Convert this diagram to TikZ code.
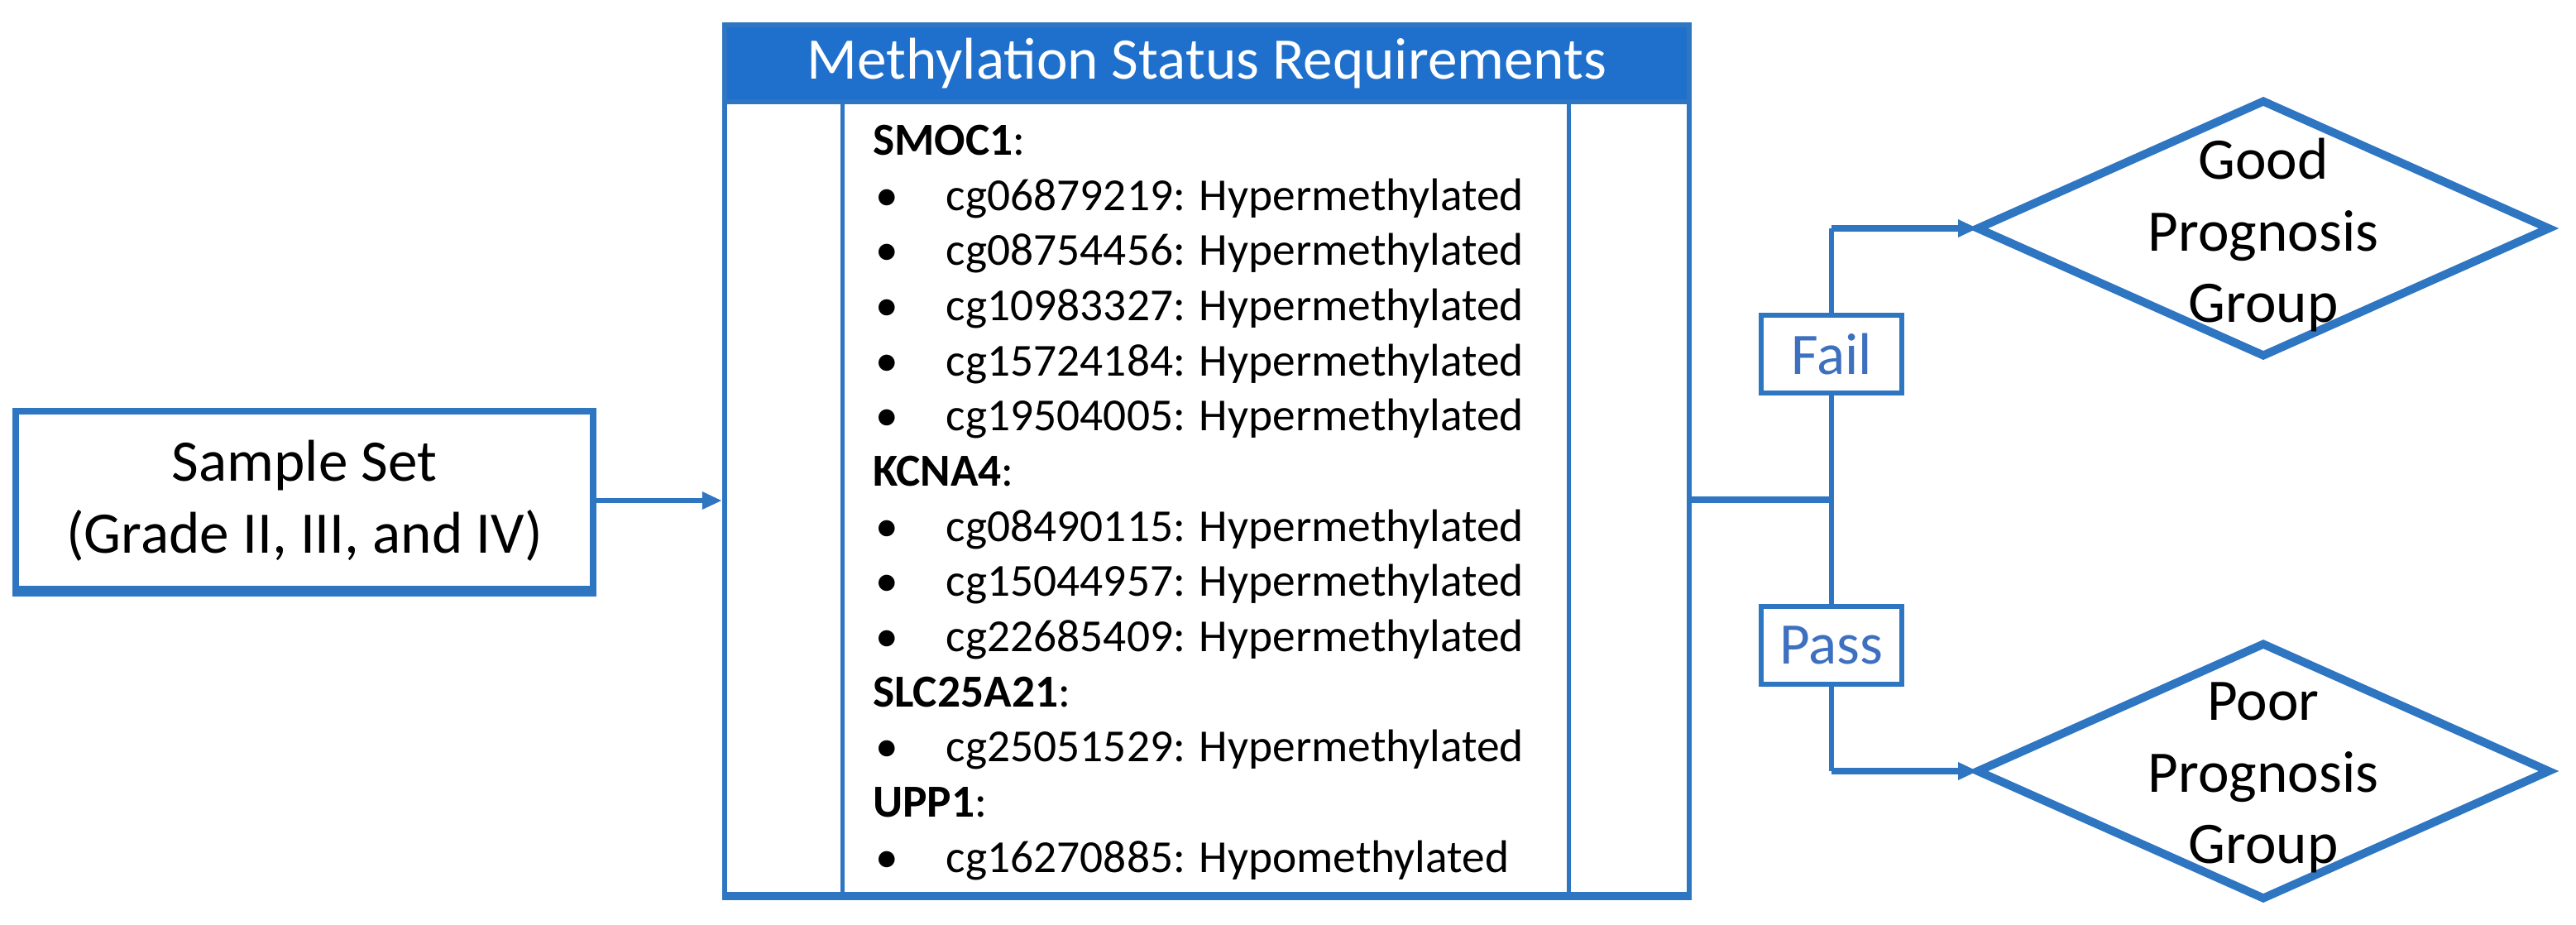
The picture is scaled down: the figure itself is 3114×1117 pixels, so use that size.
\documentclass[tikz,border=0pt]{standalone}
\usepackage{fontspec}
\setmainfont{Carlito}
\usetikzlibrary{shapes.geometric,arrows.meta}

\definecolor{lineblue}{RGB}{46,117,194}
\definecolor{headblue}{RGB}{31,112,204}
\definecolor{tagblue}{RGB}{62,112,192}

\tikzset{every picture/.style={line width=1.5pt}}
\tikzset{
  bigfont/.style={font=\fontsize{17.8}{21.7}\selectfont},
  listtext/.style={anchor=base west,inner sep=0pt,font=\fontsize{13.85}{16.7}\selectfont},
  groupshape/.style={diamond,draw=lineblue,line width=2.5pt,inner sep=0pt,outer sep=0pt,
    minimum width=172.5pt,minimum height=76.75pt},
  tagbox/.style={draw=lineblue,fill=white,line width=1.3pt,minimum width=42.5pt,minimum height=23.5pt,
    inner sep=0pt,text=tagblue,bigfont},
  flowarrow/.style={draw=lineblue,line width=2.2pt,-{Triangle[length=6pt,width=5pt]}}
}

\begin{document}
\begin{tikzpicture}[x=0.25pt,y=0.25pt,yscale=-1,xscale=1]
\useasboundingbox (0,0) rectangle (3114,1117);

%Shape: Rectangle [sample set]
\node [draw=lineblue,line width=2pt,minimum width=174.5pt,minimum height=54pt,align=center,bigfont] (sample) at (368,605) {Sample Set\\(Grade II, III, and IV)};
\draw [lineblue,line width=3.2pt] ([yshift=-0.6pt]sample.south west) -- ([yshift=-0.6pt]sample.south east);

%Shape: Rectangle [requirements]
\node [draw=lineblue,line width=1.6pt,minimum width=291.5pt,minimum height=263pt,inner sep=0pt] (req) at (1459,556) {};
\draw [lineblue,line width=2.6pt] ([yshift=-0.5pt]req.south west) -- ([yshift=-0.5pt]req.south east);
%Shape: Rectangle [header]
\node [draw=lineblue,fill=headblue,line width=1.6pt,minimum width=291.5pt,minimum height=23.25pt,inner sep=0pt,anchor=north,text=white,bigfont] (head) at (req.north) {\raisebox{-1.5pt}{Methylation Status Requirements}};
%Straight Lines [inner columns]
\draw [lineblue,line width=1.3pt] ([xshift=36.5pt]head.south west) -- ([xshift=36.5pt]req.south west);
\draw [lineblue,line width=1.3pt] ([xshift=-37.25pt]head.south east) -- ([xshift=-37.25pt]req.south east);

% Text Node
\node [listtext] (smoc) at (1052,187) {\textbf{SMOC1}:};
% Text Node
\node [listtext] (cg1) at (1055,254) {\makebox[21.5pt][l]{•}cg06879219: Hypermethylated};
% Text Node
\node [listtext] (cg2) at (1055,320) {\makebox[21.5pt][l]{•}cg08754456: Hypermethylated};
% Text Node
\node [listtext] (cg3) at (1055,387) {\makebox[21.5pt][l]{•}cg10983327: Hypermethylated};
% Text Node
\node [listtext] (cg4) at (1055,454) {\makebox[21.5pt][l]{•}cg15724184: Hypermethylated};
% Text Node
\node [listtext] (cg5) at (1055,520) {\makebox[21.5pt][l]{•}cg19504005: Hypermethylated};
% Text Node
\node [listtext] (kcna) at (1052,587) {\textbf{KCNA4}:};
% Text Node
\node [listtext] (cg6) at (1055,654) {\makebox[21.5pt][l]{•}cg08490115: Hypermethylated};
% Text Node
\node [listtext] (cg7) at (1055,720) {\makebox[21.5pt][l]{•}cg15044957: Hypermethylated};
% Text Node
\node [listtext] (cg8) at (1055,787) {\makebox[21.5pt][l]{•}cg22685409: Hypermethylated};
% Text Node
\node [listtext] (slc) at (1052,854) {\textbf{SLC25A21}:};
% Text Node
\node [listtext] (cg9) at (1055,920) {\makebox[21.5pt][l]{•}cg25051529: Hypermethylated};
% Text Node
\node [listtext] (upp) at (1052,987) {\textbf{UPP1}:};
% Text Node
\node [listtext] (cg10) at (1055,1054) {\makebox[21.5pt][l]{•}cg16270885: Hypomethylated};

%Shape: Diamond [outcomes]
\node [groupshape,label={[align=center,bigfont,yshift=-2pt]center:Good\\Prognosis\\Group}] (good) at (2736,276) {};
\node [groupshape,label={[align=center,bigfont,yshift=-2pt]center:Poor\\Prognosis\\Group}] (poor) at (2736,932) {};

%Straight Lines [sample to requirements]
\draw [flowarrow,line width=1.7pt] (sample.east) -- (sample.east -| req.west);

%Straight Lines [split]
\coordinate (split) at (2214,604);
\draw [lineblue,line width=2.2pt] (split -| req.east) -- (split);

%Shape: Rectangle [tags]
\node [tagbox] (fail) at (2214,428) {Fail};
\node [tagbox] (pass) at (2214,780) {Pass};

%Straight Lines [branches]
\draw [lineblue,line width=1.3pt] (split) -- (fail.south);
\draw [lineblue,line width=1.3pt] (fail.north) -- (fail |- good.west);
\draw [flowarrow] (fail |- good.west) -- (good.west);
\draw [lineblue,line width=1.3pt] (split) -- (pass.north);
\draw [lineblue,line width=1.3pt] (pass.south) -- (pass |- poor.west);
\draw [flowarrow] (pass |- poor.west) -- (poor.west);

\end{tikzpicture}
\end{document}
